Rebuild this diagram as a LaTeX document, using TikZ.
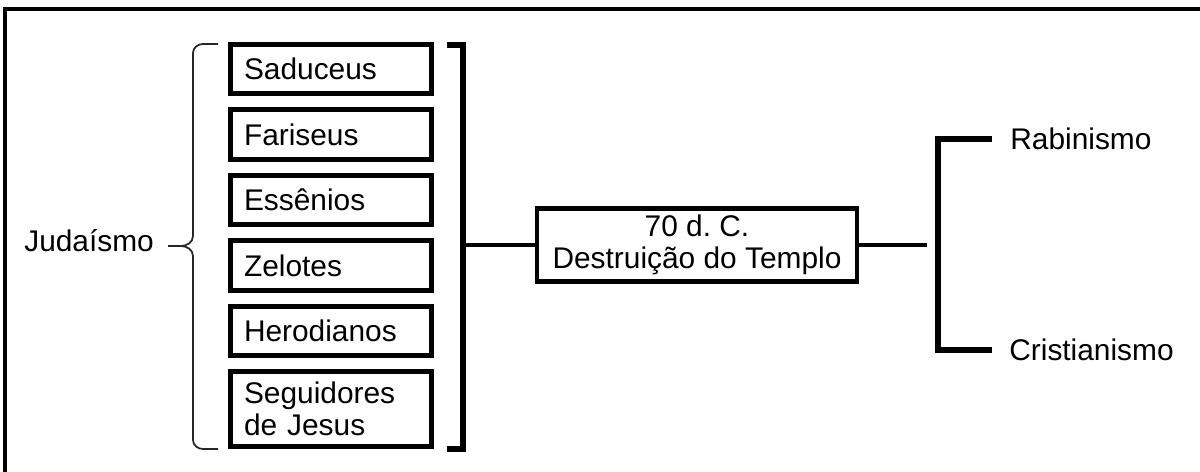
\documentclass[tikz,border=0pt]{standalone}
\usepackage{fontspec}
\setmainfont{Liberation Sans}
\usetikzlibrary{positioning}
\tikzset{
	node distance=0.22cm,
	grupo/.style={rectangle,draw=black,line width=2.8pt,minimum width=4.02cm,minimum height=0.99cm,
		inner xsep=0.27cm,inner ysep=0pt,text width=3.48cm,align=left,font=\fontsize{17}{18.5}\selectfont},
	evento/.style={rectangle,draw=black,line width=2.8pt,minimum width=6.4cm,minimum height=1.46cm,
		inner sep=0pt,align=center,font=\fontsize{17}{18.5}\selectfont},
	rotulo/.style={inner sep=0pt,font=\fontsize{17}{18.5}\selectfont},
	linha/.style={line width=2.8pt},
	colchete/.style={line width=3.4pt},
	chave/.style={line width=1pt,black!85},
	moldura/.style={line width=2.8pt}
}

\begin{document}
\frenchspacing
\begin{tikzpicture}[x=0.02cm,y=-0.02cm]
\useasboundingbox (0,0) rectangle (1200,472);
\draw[moldura] (1210,9) -- (5,9) -- (5,480);

% grupos
\node[grupo,anchor=north](Saduceus) at (331,42) {Saduceus};
\node[grupo](Fariseus) [below=of Saduceus] {Fariseus};
\node[grupo](Essenios) [below=of Fariseus] {Essênios};
\node[grupo](Zelotes) [below=of Essenios] {Zelotes};
\node[grupo](Herodianos) [below=of Zelotes] {Herodianos};
\node[grupo,minimum height=1.5cm](Seguidores) [below=of Herodianos] {Seguidores\\de Jesus};

\node[rotulo,anchor=west](Judaismo) at (24,241) {Judaísmo};
\draw[chave] (218,44) -- (203,44) to[out=180,in=90] (193,53) -- (193,236)
   to[out=-90,in=0] (181,246) -- (168,246);
\draw[chave] (181,246) to[out=0,in=90] (193,256) -- (193,440)
   to[out=-90,in=180] (203,449) -- (218,449);

% colchete e evento
\coordinate (juncao) at (463,245);
\draw[colchete] (447,45) -- (463,45) -- (463,449) -- (447,449);
\node[evento](Templo) at (697,245) {70 d. C.\\Destruição do Templo};
\draw[linha] (juncao) -- (Templo);
\coordinate (saida) at (927,245);
\draw[linha] (Templo) -- (saida);

% resultados
\node[rotulo,anchor=west](Rabinismo) at (1010,139) {Rabinismo};
\node[rotulo,anchor=west](Cristianismo) at (1009,350) {Cristianismo};
\draw[colchete] ([xshift=-0.36cm]Rabinismo.west) -- (938,139) -- (938,350)
   -- ([xshift=-0.34cm]Cristianismo.west);
\end{tikzpicture}
\end{document}
